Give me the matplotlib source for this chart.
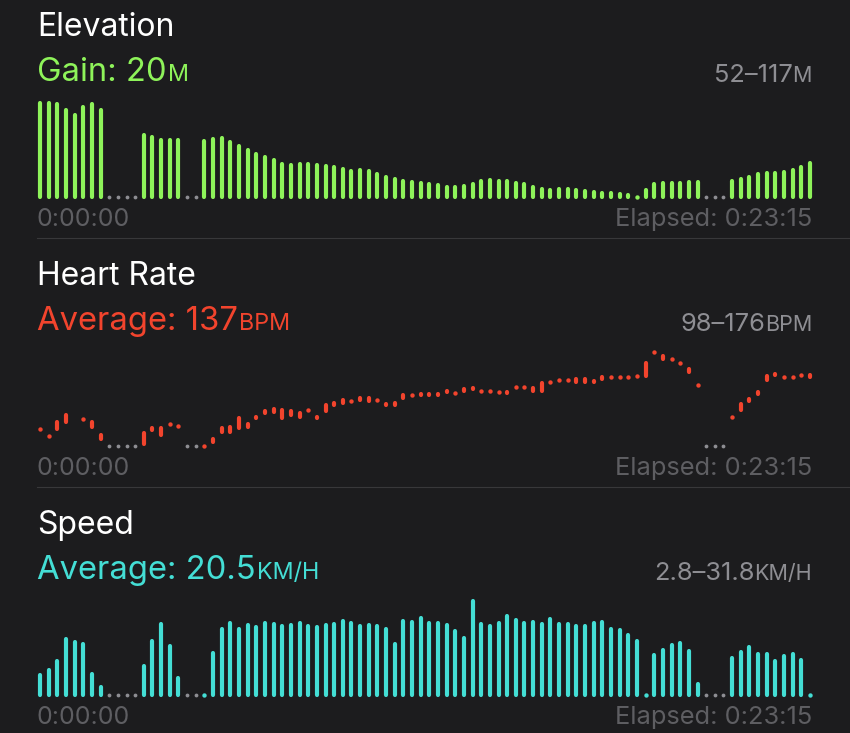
import numpy as np
import matplotlib
matplotlib.use("Agg")
import matplotlib.pyplot as plt

W, H = 850, 733
BG = "#1c1c1e"
FONT = "Inter"

N = None
slots = np.arange(90)
paused = [8, 9, 10, 11, 17, 18, 77, 78, 79]

elevation = [117, 117, 116.3, 112, 108.9, 114.2, 116.1, 112, N, N, N, N,
             95.1, 93.5, 91.2, 91.2, 91.2, N, N,
             90.5, 92.3, 92.8, 90, 87.1, 84.3, 81.9, 79.7, 77.4, 74.6, 73.9,
             75, 74.6, 73.9, 73.4, 72.5, 71.2, 70, 70.7, 70, 68.1,
             65.8, 64.7, 63.1, 62.4, 61.9, 61.2, 60.1, 58.9, 58.9, 59.6,
             61.2, 62.9, 63.5, 63.1, 62.9, 61.9, 60.8, 58.9, 57.7, 56.6,
             57.3, 57.7, 56.6, 55.9, 55.5, 55, 55, 53.9, 53.4, 52,
             56.6, 61.2, 61.7, 61.7, 61.7, 62.4, 62.4, N, N, N,
             63.1, 64.7, 65.8, 67.7, 68.6, 68.8, 69.3, 70.5, 72.7, 75.7]

hr_min = [112, 106, 112, 118, N, 120, 114, 104, N, N, N, N,
          100, 111, 107, 116, 115, N, N,
          98, 101, 110, 110, 113, 114, 121, 125, 126, 121, 124,
          122, 128, 121, 127, 132, 134, 135, 136, 135, 136,
          132, 132, 138, 140, 140, 140, 140, 143, 142, 144,
          145, 144, 144, 143, 142, 147, 147, 144, 144, 151,
          153, 153, 151, 151, 151, 154, 155, 155, 155, 156,
          156, 176, 170, 170, 167, 159, 149, N, N, N,
          122, 128, 135, 141, 153, 157, 155, 155, 157, 155]
hr_max = [112, 106, 118, 124, N, 120, 118, 107, N, N, N, N,
          109, 113, 113, 116, 115, N, N,
          98, 104, 113, 114, 121, 116, 122, 127, 129, 128, 127,
          125, 128, 122, 132, 134, 136, 135, 138, 138, 136,
          133, 134, 140, 140, 141, 141, 141, 144, 142, 145,
          146, 144, 144, 143, 143, 147, 147, 146, 150, 151,
          153, 153, 154, 154, 152, 155, 155, 155, 155, 156,
          167, 176, 173, 170, 167, 162, 149, N, N, N,
          122, 133, 137, 143, 156, 158, 155, 155, 157, 157]

speed = [8.9, 10.6, 13.2, 20.2, 19.1, 18.4, 9.4, 5.2, N, N, N, N,
         11.9, 19.4, 24.8, 17.9, 8.1, N, N,
         2.8, 15.8, 23.2, 24.9, 23.3, 24.4, 23.8, 24.9, 24.6, 24.2, 24.5,
         24.9, 24.1, 23.8, 24.4, 24.6, 25.6, 24.9, 24.1, 24.5, 24.1,
         23.2, 18.6, 25.6, 25.3, 26.5, 25.1, 25.1, 24.4, 22.5, 20.4,
         31.8, 24.8, 24.1, 25.1, 27.3, 25.8, 24.9, 25.3, 24.6, 26.3,
         24.6, 24.6, 24.2, 24.1, 25.1, 25.3, 23.2, 22.8, 21.2, 19.4,
         2.8, 15.0, 16.8, 18.1, 18.9, 16.3, 6.3, N, N, N,
         14.3, 16.0, 17.7, 15.3, 15.5, 13.2, 14.8, 15.6, 13.5, 2.8]

titles = ["Elevation", "Heart Rate", "Speed"]
sub_main = ["Gain: 20", "Average: 137", "Average: 20.5"]
sub_unit = ["M", "BPM", "KM/H"]
range_main = ["52\u2013117", "98\u2013176", "2.8\u201331.8"]
range_unit = ["M", "BPM", "KM/H"]
start_label = "0:00:00"
end_label = "Elapsed: 0:23:15"

GREEN = "#8ef35a"
RED = "#f2442d"
CYAN = "#44ded5"
GRAY = "#8e8e93"
DIM = "#5e5e62"

fig = plt.figure(figsize=(W / 100, H / 100), dpi=100, facecolor=BG)
renderer = fig.canvas.get_renderer()


def fy(y):
    return 1 - y / H


def left_combo(x, y, main, unit, s1, s2, color):
    t = fig.text(x / W, fy(y), main, fontsize=s1, color=color, family=FONT,
                 ha="left", va="baseline")
    bb = t.get_window_extent(renderer)
    fig.text((bb.x1 + 1.0) / W, fy(y), unit, fontsize=s2, color=color, family=FONT,
             ha="left", va="baseline")


def right_combo(x, y, main, unit, s1, s2, color):
    u = fig.text(x / W, fy(y), unit, fontsize=s2, color=color, family=FONT,
                 ha="right", va="baseline")
    bb = u.get_window_extent(renderer)
    fig.text((bb.x0 + 0.5) / W, fy(y), main, fontsize=s1, color=color, family=FONT,
             ha="right", va="baseline")


def to_arr(v):
    return np.array([np.nan if a is None else a for a in v], dtype=float)


panels = [
    (to_arr(elevation), to_arr(elevation), 52, 117, GREEN, True),
    (to_arr(hr_min), to_arr(hr_max), 98, 176, RED, False),
    (to_arr(speed), to_arr(speed), 2.8, 31.8, CYAN, True),
]

PLOT_H = 94  # pixels between min and max cap centres

for i, (lo, hi, ymin, ymax, color, is_bar) in enumerate(panels):
    p = 249 * i
    fig.text(37 / W, fy(36 + p), titles[i], fontsize=23, color="white",
             family=FONT, va="baseline")
    left_combo(37, 81 + p, sub_main[i], sub_unit[i], 23.6, 16.8, color)
    right_combo(812, 82 + p, range_main[i], range_unit[i], 18.3, 15.5, GRAY)
    fig.text(37 / W, fy(226 + p), start_label, fontsize=18, color=DIM,
             family=FONT, va="baseline")
    fig.text(812 / W, fy(226 + p), end_label, fontsize=18.3, color=DIM,
             family=FONT, va="baseline", ha="right")
    if i < 2:
        fig.add_artist(plt.Line2D([37 / W, 1], [fy(238 + p)] * 2,
                                  color="#38383a", lw=0.8))

    ax = fig.add_axes([40 / W, fy(197 + p), 770 / W, PLOT_H / H])
    ax.set_xlim(0, 89)
    ax.set_ylim(ymin, ymax)
    ax.axis("off")
    ok = ~np.isnan(lo)
    x = slots[ok]
    if is_bar:
        l = np.full(ok.sum(), float(ymin))
    else:
        l = lo[ok]
    h = hi[ok]
    px_per_unit = PLOT_H / (ymax - ymin)
    length_px = (h - l) * px_per_unit
    seg = length_px >= 0.8
    ax.vlines(x[seg], l[seg], h[seg], colors=color, linewidth=3.0,
              capstyle="round", clip_on=False)
    dot = ~seg
    ax.scatter(x[dot], (l[dot] + h[dot]) / 2, s=10, color=color,
               linewidths=0, clip_on=False)
    ax.scatter(paused, [ymin] * len(paused), s=7.5, color=GRAY, linewidths=0,
               clip_on=False)

fig.savefig("out.png", dpi=100, facecolor=BG)
